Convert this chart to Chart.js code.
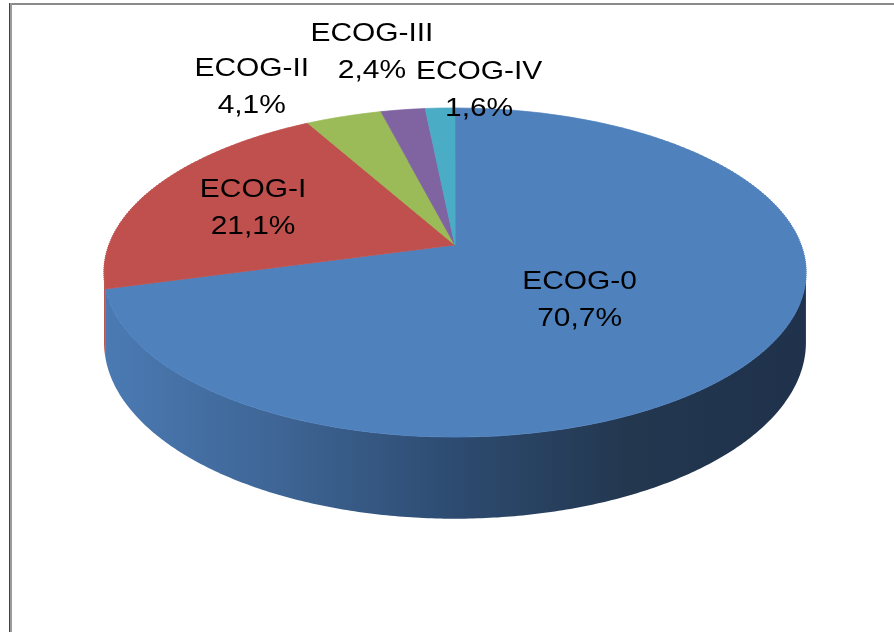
<!DOCTYPE html>
<html>
<head>
<meta charset="utf-8">
<script src="https://cdn.jsdelivr.net/npm/chart.js@4.4.1/dist/chart.umd.min.js"></script>
<style>
  html, body { margin: 0; padding: 0; background: #fff; }
  #wrap { position: relative; width: 894px; height: 632px; overflow: hidden; }
  #wrap canvas { position: absolute; left: 0; top: 0; }
  .line { position: absolute; }
  #topLine { left: 10px; top: 3px; width: 884px; height: 2px; background: #8a8a8a; }
  #leftRed { left: 9px; top: 3px; width: 1px; height: 629px; background: #e00000; }
  #leftGrey { left: 10px; top: 3px; width: 2px; height: 629px; background: #9a9a9a; }
</style>
</head>
<body>
<div id="wrap">
  <canvas id="ecogPie" width="894" height="632"></canvas>
  <div class="line" id="topLine"></div>
  <div class="line" id="leftRed"></div>
  <div class="line" id="leftGrey"></div>
</div>
<script>
// data
const categories = ['ECOG-0', 'ECOG-I', 'ECOG-II', 'ECOG-III', 'ECOG-IV'];
const shares = [70.7, 21.1, 4.1, 2.4, 1.6];
const sliceColors = ['#4f81bd', '#c0504d', '#9bbb59', '#8064a2', '#4bacc6'];
// side wall shading (left -> right)
const sideShades = [
  ['#4b7ab3', '#3e6595', '#2d4b70', '#23374f', '#1f314b'],
  ['#b34b48', '#9c403e', '#7e3331', '#652827', '#5a2423'],
  ['#8fae52', '#7f9b48', '#69803b', '#556830', '#4c5d2b'],
  ['#765c96', '#675083', '#54416b', '#443556', '#3d2f4d'],
  ['#45a0b8', '#3b8ca1', '#307384', '#265c6a', '#22525f']
];

// perspective view of the pie: screen = centre + (A*u, B*v) / (1 + C*v)
const VIEW = { cx: 455, cy: 245, A: 346, B: 160, C: -0.167, D: 68 };
// label spot: fraction of radius along the slice middle, then a nudge
const labelPlace = [
  { f: 0.45, dx: -5, dy: 10 },
  { f: 0.65, dx: -3, dy: 2 },
  { f: 1, dx: -92, dy: -29 },
  { f: 1, dx: -31, dy: -57 },
  { f: 1, dx: 39, dy: -18 }
];
const fontSize = 26;
const textStretch = 1.15;
const lineGap = 37;

function fmtShare(v) {
  return v.toFixed(1).replace('.', ',') + '%';
}

function project(u, v) {
  const w = 1 / (1 + VIEW.C * v);
  return { x: VIEW.cx + VIEW.A * u * w, y: VIEW.cy + VIEW.B * v * w, w: w };
}

// screen row -> v on the disc
function rowToV(y) {
  const t = y - VIEW.cy;
  return t / (VIEW.B - VIEW.C * t);
}

function sideGradient(ctx, stops) {
  const g = ctx.createLinearGradient(VIEW.cx - 351, 0, VIEW.cx + 351, 0);
  stops.forEach((c, i) => g.addColorStop(i / (stops.length - 1), c));
  return g;
}

const pie3d = {
  id: 'pie3d',
  beforeDatasetsDraw(chart) {
    const ctx = chart.ctx;
    const meta = chart.getDatasetMeta(0);
    const arcs = meta.data;
    const R = arcs[0].outerRadius;
    const ox = arcs[0].x;
    const oy = arcs[0].y;

    // visible part of the wall lies between the two silhouette points
    const edge = Math.asin(-VIEW.C);
    arcs.forEach((arc, i) => {
      const a1 = Math.max(arc.startAngle, edge);
      const a2 = Math.min(arc.endAngle, Math.PI - edge);
      if (a2 <= a1) return;
      const steps = Math.max(2, Math.ceil((a2 - a1) / 0.01));
      const top = [];
      for (let s = 0; s <= steps; s++) {
        const a = a1 + (a2 - a1) * s / steps;
        top.push(project(Math.cos(a), Math.sin(a)));
      }
      ctx.save();
      ctx.beginPath();
      top.forEach((p, j) => j ? ctx.lineTo(p.x, p.y) : ctx.moveTo(p.x, p.y));
      for (let j = top.length - 1; j >= 0; j--) {
        ctx.lineTo(top[j].x, top[j].y + VIEW.D * top[j].w);
      }
      ctx.closePath();
      ctx.fillStyle = sideGradient(ctx, sideShades[i]);
      ctx.fill();
      ctx.restore();
    });

    // top face: the round pie redrawn in thin rows, each row with its own scale
    const yTop = Math.floor(project(0, -1).y) - 2;
    const yBot = Math.ceil(project(0, 1).y) + 2;
    const band = 2;
    for (let y = yTop; y < yBot; y += band) {
      const v0 = rowToV(y);
      const v1 = rowToV(y + band);
      const s = VIEW.A / (1 + VIEW.C * (v0 + v1) / 2);
      ctx.save();
      ctx.beginPath();
      ctx.rect(0, y, chart.width, band);
      ctx.clip();
      ctx.translate(VIEW.cx, y);
      ctx.scale(s / R, band / ((v1 - v0) * R));
      ctx.translate(-ox, -(oy + v0 * R));
      meta.controller.draw();
      ctx.restore();
    }
    return false;
  },
  afterDraw(chart) {
    const ctx = chart.ctx;
    const arcs = chart.getDatasetMeta(0).data;
    ctx.save();
    ctx.fillStyle = '#000';
    ctx.font = fontSize + 'px "Liberation Sans", Arial, sans-serif';
    ctx.textAlign = 'center';
    ctx.textBaseline = 'middle';
    arcs.forEach((arc, i) => {
      const p = labelPlace[i];
      const mid = (arc.startAngle + arc.endAngle) / 2;
      const pt = project(Math.cos(mid) * p.f, Math.sin(mid) * p.f);
      ctx.save();
      ctx.translate(pt.x + p.dx, pt.y + p.dy);
      ctx.scale(textStretch, 1);
      ctx.fillText(categories[i], 0, -lineGap / 2);
      ctx.fillText(fmtShare(shares[i]), 0, lineGap / 2);
      ctx.restore();
    });
    ctx.restore();
  }
};

new Chart(document.getElementById('ecogPie').getContext('2d'), {
  type: 'pie',
  data: {
    labels: categories,
    datasets: [{
      data: shares,
      backgroundColor: sliceColors,
      borderColor: sliceColors,
      borderWidth: 1,
      clip: false
    }]
  },
  options: {
    responsive: false,
    animation: false,
    events: [],
    plugins: {
      legend: { display: false },
      tooltip: { enabled: false },
      title: { display: false }
    }
  },
  plugins: [pie3d]
});
</script>
</body>
</html>
